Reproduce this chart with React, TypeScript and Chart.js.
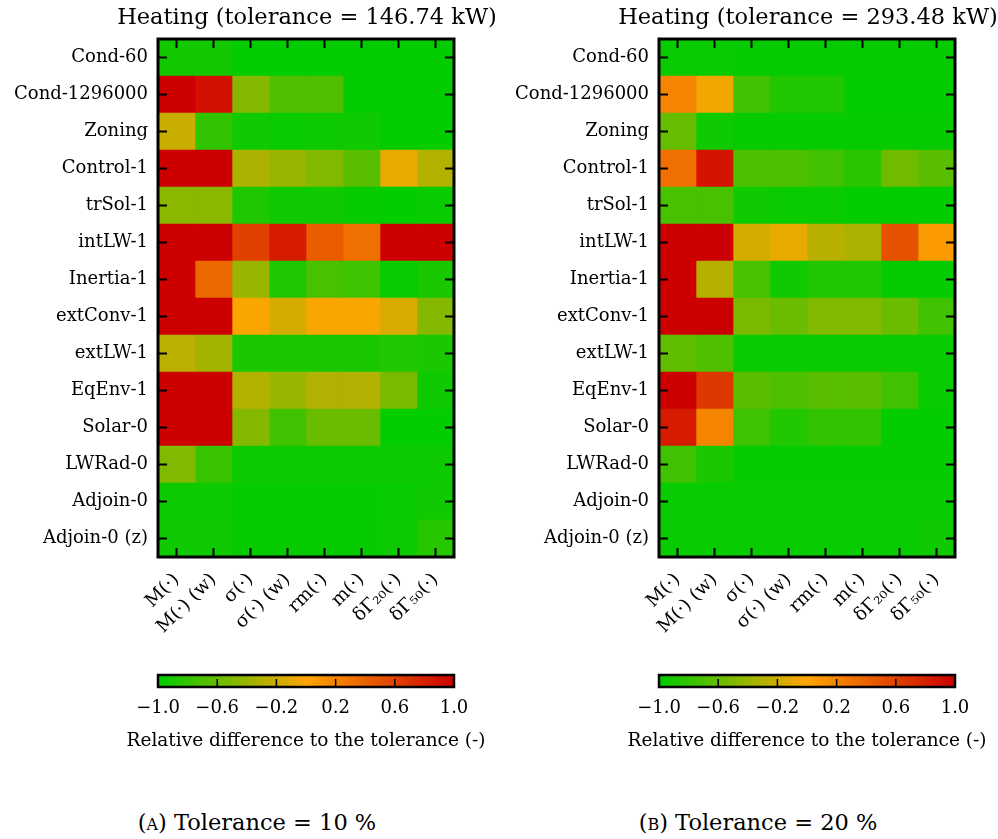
import React, { useEffect, useRef } from "react";
import { Chart, registerables } from "chart.js";

Chart.register(...registerables);

const FONT = '"DejaVu Serif", serif';

const rowLabels = [
  "Cond-60",
  "Cond-1296000",
  "Zoning",
  "Control-1",
  "trSol-1",
  "intLW-1",
  "Inertia-1",
  "extConv-1",
  "extLW-1",
  "EqEnv-1",
  "Solar-0",
  "LWRad-0",
  "Adjoin-0",
  "Adjoin-0 (z)",
];

const colLabels = ["M(·)", "M(·) (w)", "σ(·)", "σ(·) (w)", "rm(·)", "m(·)", "δΓ₂₀(·)", "δΓ₅₀(·)"];

// Panel A: tolerance = 10 %
const heatA: number[][] = [
  [-0.93, -0.93, -0.99, -0.99, -0.99, -0.99, -0.99, -0.99],
  [1.0, 0.9, -0.48, -0.69, -0.69, -0.99, -0.99, -0.99],
  [-0.22, -0.81, -0.94, -0.97, -0.95, -0.94, -0.99, -0.99],
  [1.0, 1.0, -0.33, -0.4, -0.5, -0.65, -0.09, -0.3],
  [-0.46, -0.46, -0.88, -0.94, -0.94, -0.98, -0.99, -0.97],
  [1.0, 1.0, 0.61, 0.83, 0.44, 0.32, 1.0, 1.0],
  [1.0, 0.37, -0.4, -0.88, -0.72, -0.76, -0.97, -0.9],
  [1.0, 1.0, -0.02, -0.17, -0.02, -0.02, -0.15, -0.48],
  [-0.27, -0.36, -0.9, -0.9, -0.9, -0.9, -0.87, -0.9],
  [1.0, 1.0, -0.3, -0.4, -0.31, -0.31, -0.52, -0.94],
  [1.0, 1.0, -0.48, -0.75, -0.59, -0.59, -0.99, -0.99],
  [-0.5, -0.78, -0.95, -0.95, -0.95, -0.95, -0.95, -0.95],
  [-0.95, -0.95, -0.98, -0.98, -0.98, -0.98, -0.97, -0.94],
  [-0.94, -0.94, -0.98, -0.98, -0.98, -0.98, -0.95, -0.85],
];

// Panel B: tolerance = 20 %
const heatB: number[][] = [
  [-0.97, -0.97, -0.98, -0.98, -0.98, -0.98, -0.98, -0.98],
  [0.2, -0.06, -0.75, -0.87, -0.87, -0.99, -0.99, -0.99],
  [-0.6, -0.94, -0.98, -0.98, -0.98, -0.98, -0.98, -0.98],
  [0.32, 0.88, -0.7, -0.7, -0.75, -0.83, -0.56, -0.65],
  [-0.72, -0.72, -0.94, -0.96, -0.96, -0.99, -0.99, -0.99],
  [1.0, 1.0, -0.17, -0.09, -0.28, -0.33, 0.5, 0.07],
  [1.0, -0.29, -0.72, -0.94, -0.87, -0.87, -0.98, -0.98],
  [1.0, 1.0, -0.52, -0.59, -0.5, -0.5, -0.58, -0.75],
  [-0.62, -0.69, -0.96, -0.96, -0.96, -0.96, -0.96, -0.97],
  [1.0, 0.66, -0.65, -0.7, -0.65, -0.65, -0.75, -0.97],
  [0.83, 0.2, -0.76, -0.87, -0.81, -0.81, -0.99, -0.99],
  [-0.75, -0.9, -0.98, -0.98, -0.98, -0.98, -0.98, -0.98],
  [-0.97, -0.97, -0.97, -0.97, -0.97, -0.97, -0.97, -0.97],
  [-0.97, -0.97, -0.97, -0.97, -0.97, -0.97, -0.97, -0.94],
];

const titleA = "Heating (tolerance = 146.74 kW)";
const titleB = "Heating (tolerance = 293.48 kW)";
const cbTicks = [-1.0, -0.6, -0.2, 0.2, 0.6, 1.0];
const cbTitle = "Relative difference to the tolerance (-)";

const CW = 496; // canvas width
const PAD_R = CW - 157 - 296;

function valueColor(v: number): string {
  const x = Math.max(-1, Math.min(1, v));
  let r: number, g: number;
  if (x <= 0) {
    const t = x + 1;
    r = 255 * t;
    g = 204 - 39 * t;
  } else {
    r = 255 - 51 * x;
    g = 165 * (1 - x);
  }
  return `rgb(${Math.round(r)},${Math.round(g)},0)`;
}

function fmtTick(v: number): string {
  const s = Math.abs(v).toFixed(1);
  return v < 0 ? "\u2212" + s : s;
}

const titlePlugin = {
  id: "heatTitle",
  afterDraw(chart: any, _args: any, opts: any) {
    const { ctx, chartArea } = chart;
    ctx.save();
    ctx.font = `22.5px ${FONT}`;
    ctx.fillStyle = "#000";
    ctx.textAlign = "center";
    ctx.textBaseline = "middle";
    ctx.fillText(opts.text, (chartArea.left + chartArea.right) / 2 + 1, 18);
    ctx.restore();
  },
};

const framePlugin = {
  id: "heatFrame",
  afterDatasetsDraw(chart: any) {
    const { ctx, chartArea, scales } = chart;
    const { left, right, top, bottom } = chartArea;
    ctx.save();
    ctx.strokeStyle = "#000";
    ctx.lineWidth = 2;
    ctx.beginPath();
    scales.x.ticks.forEach((t: any) => {
      const x = scales.x.getPixelForValue(t.value);
      ctx.moveTo(x, bottom);
      ctx.lineTo(x, bottom - 9);
      ctx.moveTo(x, top);
      ctx.lineTo(x, top + 9);
    });
    scales.y.ticks.forEach((_t: any, i: number) => {
      const y = scales.y.getPixelForTick(i);
      ctx.moveTo(left, y);
      ctx.lineTo(left + 9, y);
      ctx.moveTo(right, y);
      ctx.lineTo(right - 9, y);
    });
    ctx.stroke();
    ctx.lineWidth = 3;
    ctx.strokeRect(left, top, right - left, bottom - top);
    ctx.restore();
  },
};

const cbFramePlugin = {
  id: "cbFrame",
  afterDatasetsDraw(chart: any) {
    const { ctx, chartArea, scales } = chart;
    const { left, right, top, bottom } = chartArea;
    ctx.save();
    ctx.strokeStyle = "#000";
    ctx.lineWidth = 1.5;
    ctx.beginPath();
    scales.x.ticks.forEach((t: any) => {
      const x = scales.x.getPixelForValue(t.value);
      ctx.moveTo(x, bottom);
      ctx.lineTo(x, bottom - 8);
    });
    ctx.stroke();
    ctx.lineWidth = 2.5;
    ctx.strokeRect(left, top, right - left, bottom - top);
    ctx.restore();
  },
  afterDraw(chart: any, _args: any, opts: any) {
    const { ctx, chartArea } = chart;
    ctx.save();
    ctx.font = `18.5px ${FONT}`;
    ctx.fillStyle = "#000";
    ctx.textAlign = "center";
    ctx.textBaseline = "middle";
    ctx.fillText(opts.text, (chartArea.left + chartArea.right) / 2, chartArea.bottom + 54);
    ctx.restore();
  },
};

function heatConfig(matrix: number[][], title: string): any {
  return {
    type: "bar",
    data: {
      labels: rowLabels,
      datasets: colLabels.map((c, j) => ({
        label: c,
        data: rowLabels.map(() => [j - 0.5, j + 0.5]),
        backgroundColor: matrix.map((row) => valueColor(row[j])),
        borderWidth: 0,
        barPercentage: 1,
        categoryPercentage: 1,
        grouped: false,
      })),
    },
    options: {
      indexAxis: "y",
      animation: false,
      responsive: false,
      maintainAspectRatio: false,
      layout: { padding: { left: 0, right: PAD_R, top: 39, bottom: 0 } },
      plugins: {
        legend: { display: false },
        tooltip: { enabled: false },
        title: { display: false },
        heatTitle: { text: title },
      },
      scales: {
        x: {
          type: "linear",
          min: -0.5,
          max: 7.5,
          afterBuildTicks: (s: any) => {
            s.ticks = colLabels.map((_c, i) => ({ value: i }));
          },
          afterFit: (s: any) => {
            s.height = 103;
          },
          grid: { display: false, drawTicks: false },
          border: { display: false },
          ticks: {
            autoSkip: false,
            minRotation: 45,
            maxRotation: 45,
            padding: 12,
            color: "#000",
            font: { family: FONT, size: 18.5 },
            callback: (v: any) => colLabels[v] ?? "",
          },
        },
        y: {
          type: "category",
          afterFit: (s: any) => {
            s.width = 157;
          },
          grid: { display: false, drawTicks: false },
          border: { display: false },
          ticks: { padding: 10, color: "#000", font: { family: FONT, size: 18 } },
        },
      },
    },
    plugins: [framePlugin, titlePlugin],
  };
}

function cbConfig(): any {
  return {
    type: "bar",
    data: {
      labels: ["cb"],
      datasets: [
        {
          data: [[cbTicks[0], cbTicks[cbTicks.length - 1]]],
          backgroundColor: (c: any) => {
            const a = c.chart.chartArea;
            if (!a) return valueColor(0);
            const g = c.chart.ctx.createLinearGradient(a.left, 0, a.right, 0);
            g.addColorStop(0, valueColor(-1));
            g.addColorStop(0.5, valueColor(0));
            g.addColorStop(1, valueColor(1));
            return g;
          },
          borderWidth: 0,
          barPercentage: 1,
          categoryPercentage: 1,
        },
      ],
    },
    options: {
      indexAxis: "y",
      animation: false,
      responsive: false,
      maintainAspectRatio: false,
      layout: { padding: { left: 157, right: PAD_R, top: 15, bottom: 2 } },
      plugins: { legend: { display: false }, tooltip: { enabled: false }, cbFrame: { text: cbTitle } },
      scales: {
        x: {
          type: "linear",
          min: -1,
          max: 1,
          afterBuildTicks: (s: any) => {
            s.ticks = cbTicks.map((v) => ({ value: v }));
          },
          afterFit: (s: any) => {
            s.height = 71;
          },
          grid: { display: false, drawTicks: false },
          border: { display: false },
          ticks: {
            padding: 11,
            maxRotation: 0,
            color: "#000",
            font: { family: FONT, size: 18 },
            callback: (v: any) => fmtTick(Number(v)),
          },
        },
        y: { display: false },
      },
    },
    plugins: [cbFramePlugin],
  };
}

export default function App() {
  const hA = useRef<HTMLCanvasElement>(null);
  const hB = useRef<HTMLCanvasElement>(null);
  const cA = useRef<HTMLCanvasElement>(null);
  const cB = useRef<HTMLCanvasElement>(null);

  useEffect(() => {
    const charts = [
      new Chart(hA.current!, heatConfig(heatA, titleA)),
      new Chart(hB.current!, heatConfig(heatB, titleB)),
      new Chart(cA.current!, cbConfig()),
      new Chart(cB.current!, cbConfig()),
    ];
    return () => charts.forEach((c) => c.destroy());
  }, []);

  const abs = (left: number, top: number): React.CSSProperties => ({
    position: "absolute",
    left,
    top,
  });

  const captionStyle = (cx: number): React.CSSProperties => ({
    position: "absolute",
    left: cx - 150,
    width: 300,
    top: 809,
    textAlign: "center",
    fontFamily: FONT,
    fontSize: 22.5,
    color: "#000",
    whiteSpace: "nowrap",
  });

  return (
    <div style={{ position: "absolute", left: 0, top: 0, width: 998, height: 839, background: "#fff" }}>
      <canvas ref={hA} width={CW} height={660} style={abs(1, 0)} />
      <canvas ref={hB} width={CW} height={660} style={abs(502, 0)} />
      <canvas ref={cA} width={CW} height={100} style={abs(1, 660)} />
      <canvas ref={cB} width={CW} height={100} style={abs(502, 660)} />
      <div style={captionStyle(257)}>
        (<span style={{ fontVariant: "small-caps" }}>a</span>) Tolerance = 10 %
      </div>
      <div style={captionStyle(758)}>
        (<span style={{ fontVariant: "small-caps" }}>b</span>) Tolerance = 20 %
      </div>
    </div>
  );
}
